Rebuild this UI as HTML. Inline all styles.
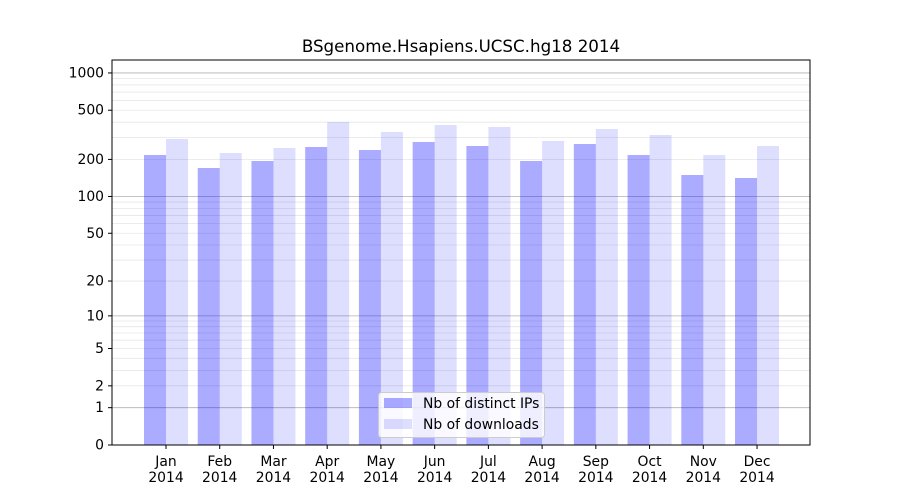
<!DOCTYPE html>
<html><head><meta charset="utf-8"><style>body{margin:0;background:#fff}svg{display:block;font-family:"DejaVu Sans","Liberation Sans",sans-serif}</style></head>
<body>
<svg id="s" width="900" height="500" xmlns="http://www.w3.org/2000/svg">
<rect width="900" height="500" fill="#fff"/>
<g id="grid"></g>
<g id="bars"></g>
<rect x="112" y="60" width="698" height="385" fill="none" stroke="#000" stroke-width="1"/>
<g id="ticks" font-size="13.9" fill="#000"></g>
<text x="461" y="52" font-size="16.7" text-anchor="middle">BSgenome.Hsapiens.UCSC.hg18 2014</text>
<g>
<rect x="378.5" y="392.5" width="166" height="45" rx="3" fill="#fff" fill-opacity="0.8" stroke="#ccc"/>
<rect x="384" y="398" width="28" height="10" fill="blue" fill-opacity="0.33"/>
<rect x="384" y="419" width="28" height="10" fill="blue" fill-opacity="0.13"/>
<text x="423" y="408" font-size="13.9">Nb of distinct IPs</text>
<text x="423" y="429" font-size="13.9">Nb of downloads</text>
</g>
</svg>
<script>
var ns="http://www.w3.org/2000/svg";
function el(p,t,a,txt){var e=document.createElementNS(ns,t);for(var k in a)e.setAttribute(k,a[k]);if(txt!==undefined)e.textContent=txt;document.getElementById(p).appendChild(e);}
function Y(v){return 445-124*Math.log10(1+v);}
[1,10,100].forEach(function(d){for(var m=2;m<=9;m++){var y=Y(m*d);el("grid","line",{x1:112,x2:810,y1:y,y2:y,stroke:"#e6e6e6","stroke-width":0.8});}});
[1,10,100,1000].forEach(function(v){var y=Y(v);el("grid","line",{x1:112,x2:810,y1:y,y2:y,stroke:"#b0b0b0","stroke-width":0.8});});
var tops=[[155,139],[168,153],[161,148],[147,122],[150,132],[142,125],[146,127],[161,141],[144,129],[155,135],[175,155],[178,146]];
var mon=["Jan","Feb","Mar","Apr","May","Jun","Jul","Aug","Sep","Oct","Nov","Dec"];
for(var i=0;i<12;i++){var c=166+i*53.73;
el("bars","rect",{x:c-22,y:tops[i][0],width:22,height:445-tops[i][0],fill:"blue","fill-opacity":0.33});
el("bars","rect",{x:c,y:tops[i][1],width:22,height:445-tops[i][1],fill:"blue","fill-opacity":0.13});
el("ticks","line",{x1:c,x2:c,y1:445,y2:449,stroke:"#000"});
el("ticks","text",{x:c,y:466,"text-anchor":"middle"},mon[i]);
el("ticks","text",{x:c,y:482,"text-anchor":"middle"},"2014");}
[0,1,2,5,10,20,50,100,200,500,1000].forEach(function(v){var y=Y(v);
el("ticks","line",{x1:108,x2:112,y1:y,y2:y,stroke:"#000"});
el("ticks","text",{x:104,y:y+4.5,"text-anchor":"end"},String(v));});
</script>
</body></html>
